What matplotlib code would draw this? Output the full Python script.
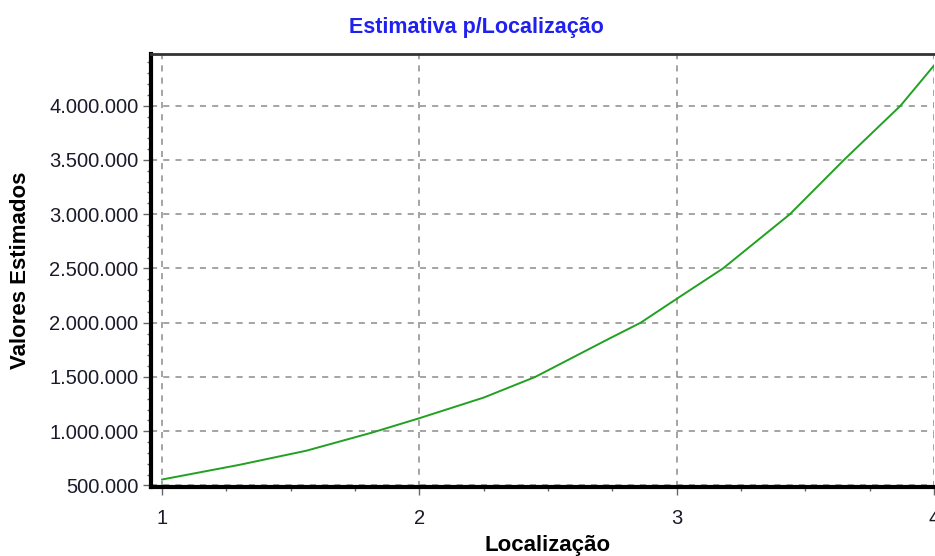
import matplotlib
matplotlib.use("Agg")
import matplotlib.pyplot as plt
from matplotlib.ticker import FuncFormatter, MultipleLocator

plt.rcParams['font.family'] = ['Liberation Sans', 'DejaVu Sans']

title = "Estimativa p/Localização"
xlabel = "Localização"
ylabel = "Valores Estimados"

loc = [1.0, 1.3, 1.56, 1.82, 2.0, 2.25, 2.45, 2.74, 2.86, 3.0, 3.18, 3.44, 3.65, 3.87, 4.0]
valores = [555000, 690000, 820000, 990000, 1120000, 1310000, 1500000, 1856000,
           2000000, 2220000, 2500000, 3000000, 3500000, 4000000, 4370000]

xticks = [1, 2, 3, 4]
yticks = [500000, 1000000, 1500000, 2000000, 2500000, 3000000, 3500000, 4000000]

fig = plt.figure(figsize=(9.35, 5.56), dpi=100)
ax = fig.add_axes([151/935, 69/556, 783/935, 433/556])

ax.plot(loc, valores, color='#22a022', lw=1.4, zorder=3)

ax.set_xlim(0.957, 4.0)
ax.set_ylim(486000, 4476000)
ax.set_xticks(xticks)
ax.set_yticks(yticks)
ax.xaxis.set_minor_locator(MultipleLocator(0.25))
ax.yaxis.set_minor_locator(MultipleLocator(100000))
ax.yaxis.set_major_formatter(FuncFormatter(lambda v, p: f"{int(round(v)):,}".replace(",", ".")))
ax.xaxis.set_major_formatter(FuncFormatter(lambda v, p: f"{int(round(v))}"))

ax.grid(True, which='major', color='#8c8c8c', linestyle=(0, (4, 4)), lw=1.1)

for s in ['left', 'bottom']:
    ax.spines[s].set_linewidth(3)
    ax.spines[s].set_color('black')
ax.spines['top'].set_linewidth(2)
ax.spines['top'].set_color('#333333')
ax.spines['right'].set_visible(False)

ax.tick_params(axis='both', which='major', direction='out', length=6, width=1,
               color='#666666', labelsize=14.5, labelcolor='#1a1a2a', pad=3)
ax.tick_params(axis='both', which='minor', direction='out', length=3, width=1,
               color='#666666')
ax.tick_params(axis='x', which='major', pad=10)

fig.text(476/935, 1 - 28/556, title, color='#2020f0', fontsize=15.5, fontweight='bold',
         ha='center', va='center')
ax.set_xlabel(xlabel, fontsize=16, fontweight='bold')
ax.set_ylabel(ylabel, fontsize=16, fontweight='bold')
ax.xaxis.set_label_coords(0.506, -0.112)
ax.yaxis.set_label_coords(-0.153, 0.5)

fig.savefig("out.png", dpi=100)
